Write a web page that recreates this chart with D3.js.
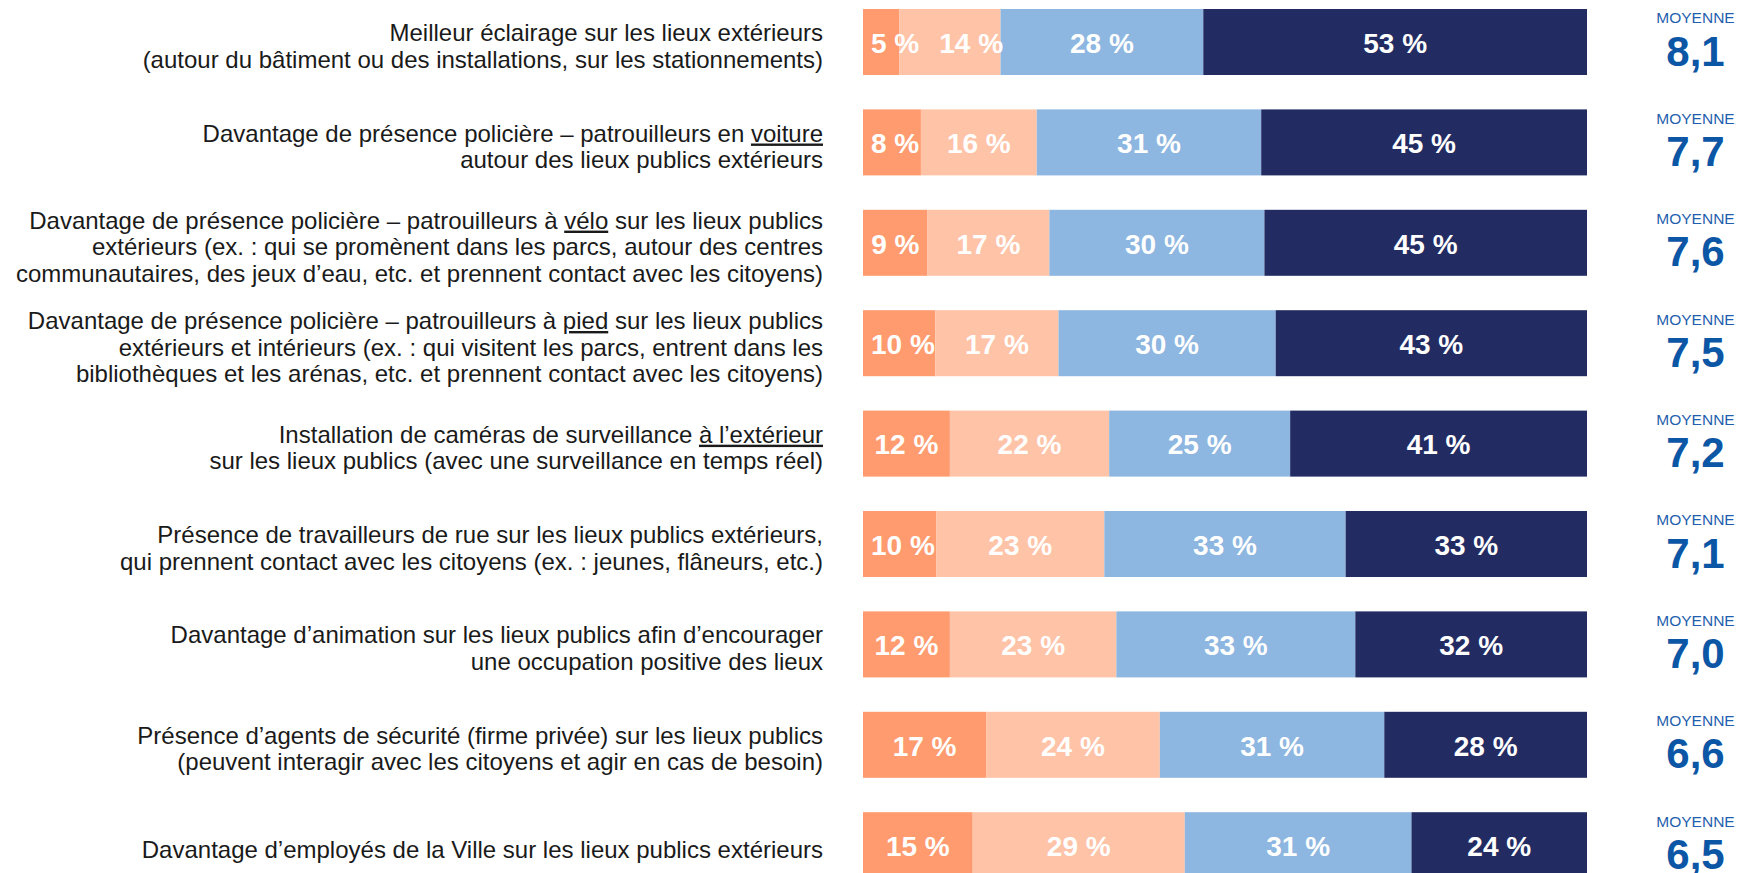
<!DOCTYPE html>
<html lang="fr">
<head>
<meta charset="utf-8">
<script src="https://cdn.jsdelivr.net/npm/d3@7"></script>
<style>
  html, body { margin: 0; padding: 0; background: #fff; }
  svg { display: block; font-family: "Liberation Sans", Arial, Helvetica, sans-serif; }
</style>
</head>
<body>
<svg id="chart" width="1740" height="873"></svg>
<script>
// Mesures proposées (underscores mark underlined words)
const categories = [
  ["Meilleur éclairage sur les lieux extérieurs",
   "(autour du bâtiment ou des installations, sur les stationnements)"],
  ["Davantage de présence policière – patrouilleurs en _voiture_",
   "autour des lieux publics extérieurs"],
  ["Davantage de présence policière – patrouilleurs à _vélo_ sur les lieux publics",
   "extérieurs (ex. : qui se promènent dans les parcs, autour des centres",
   "communautaires, des jeux d’eau, etc. et prennent contact avec les citoyens)"],
  ["Davantage de présence policière – patrouilleurs à _pied_ sur les lieux publics",
   "extérieurs et intérieurs (ex. : qui visitent les parcs, entrent dans les",
   "bibliothèques et les arénas, etc. et prennent contact avec les citoyens)"],
  ["Installation de caméras de surveillance _à l’extérieur_",
   "sur les lieux publics (avec une surveillance en temps réel)"],
  ["Présence de travailleurs de rue sur les lieux publics extérieurs,",
   "qui prennent contact avec les citoyens (ex. : jeunes, flâneurs, etc.)"],
  ["Davantage d’animation sur les lieux publics afin d’encourager",
   "une occupation positive des lieux"],
  ["Présence d’agents de sécurité (firme privée) sur les lieux publics",
   "(peuvent interagir avec les citoyens et agir en cas de besoin)"],
  ["Davantage d’employés de la Ville sur les lieux publics extérieurs"]
];

// Répartition des notes (%), de la plus faible à la plus élevée
const scoreLow     = [5, 8, 9, 10, 12, 10, 12, 17, 15];
const scoreMidLow  = [14, 16, 17, 17, 22, 23, 23, 24, 29];
const scoreMidHigh = [28, 31, 30, 30, 25, 33, 33, 31, 31];
const scoreHigh    = [53, 45, 45, 43, 41, 33, 32, 28, 24];

// Moyenne sur 10
const means = ["8,1", "7,7", "7,6", "7,5", "7,2", "7,1", "7,0", "6,6", "6,5"];
const meanCaption = "MOYENNE";

const seriesKeys = ["low", "midLow", "midHigh", "high"];
const seriesColors = ["#ff9b6e", "#ffc3a8", "#8db6e0", "#222c63"];

const rows = categories.map((lines, i) => ({
  id: i,
  lines,
  low: scoreLow[i],
  midLow: scoreMidLow[i],
  midHigh: scoreMidHigh[i],
  high: scoreHigh[i],
  mean: means[i]
}));

const svg = d3.select("#chart");

const x = d3.scaleLinear().domain([0, 1]).range([863, 1587]);
const y = d3.scaleBand()
  .domain(rows.map(d => d.id))
  .range([9, 878.2])
  .paddingInner(0.3426)
  .paddingOuter(0);

const color = d3.scaleOrdinal().domain(seriesKeys).range(seriesColors);

// Each bar fills the full width: shares are normalised per row
const stacked = d3.stack().keys(seriesKeys).offset(d3.stackOffsetExpand)(rows);

const bars = svg.append("g").attr("class", "bars");
stacked.forEach(layer => {
  bars.append("g")
    .attr("fill", color(layer.key))
    .selectAll("rect")
    .data(layer)
    .join("rect")
    .attr("x", d => x(d[0]))
    .attr("width", d => x(d[1]) - x(d[0]))
    .attr("y", d => y(d.data.id))
    .attr("height", y.bandwidth());
});

// Percentage labels: centred in their segment, nudged so they stay inside the bar and apart
const pctSize = 28;
const measure = svg.append("text")
  .attr("font-size", pctSize).attr("font-weight", "bold").attr("visibility", "hidden");
function textWidth(t) { measure.text(t); return measure.node().getComputedTextLength(); }

const pctLayer = svg.append("g").attr("class", "pct");
rows.forEach((row, i) => {
  let prevRight = x(0) + 8 - 20;
  stacked.forEach(layer => {
    const seg = layer[i];
    const txt = row[layer.key] + " %";
    const w = textWidth(txt);
    let left = (x(seg[0]) + x(seg[1])) / 2 - w / 2;
    left = Math.max(left, prevRight + 20);
    prevRight = left + w;
    pctLayer.append("text")
      .attr("x", left + w / 2)
      .attr("y", y(row.id) + y.bandwidth() / 2 + 1)
      .attr("dy", "0.35em")
      .attr("text-anchor", "middle")
      .attr("font-size", pctSize)
      .attr("font-weight", "bold")
      .attr("fill", "#ffffff")
      .text(txt);
  });
});
measure.remove();

// Category labels, right-aligned to the left of the bars
const labelSize = 24, lineHeight = 26.6, labelRight = 823;
const labelLayer = svg.append("g").attr("class", "labels");
rows.forEach(row => {
  const n = row.lines.length;
  const cy = y(row.id) + y.bandwidth() / 2 + 4;
  const t = labelLayer.append("text")
    .attr("text-anchor", "end")
    .attr("font-size", labelSize)
    .attr("fill", "#1a1a1a");
  row.lines.forEach((line, j) => {
    const ly = cy + (j - (n - 1) / 2) * lineHeight;
    const parts = line.split("_");
    parts.forEach((part, k) => {
      if (!part) return;
      const span = t.append("tspan").text(part);
      if (k === 0 || (k === 1 && !parts[0])) {
        span.attr("x", labelRight).attr("y", ly).attr("dy", "0.35em");
      }
      if (k % 2 === 1) span.attr("text-decoration", "underline");
    });
  });
});

// Mean score column
const meanX = 1695.5;
const meanLayer = svg.append("g").attr("class", "means");
rows.forEach(row => {
  const top = y(row.id);
  meanLayer.append("text")
    .attr("x", meanX).attr("y", top + 9).attr("dy", "0.35em")
    .attr("text-anchor", "middle")
    .attr("font-size", 15.5)
    .attr("fill", "#1f5fae")
    .text(meanCaption);
  meanLayer.append("text")
    .attr("x", meanX).attr("y", top + 42).attr("dy", "0.35em")
    .attr("text-anchor", "middle")
    .attr("font-size", 42)
    .attr("font-weight", "bold")
    .attr("fill", "#0c56a6")
    .text(row.mean);
});
</script>
</body>
</html>
